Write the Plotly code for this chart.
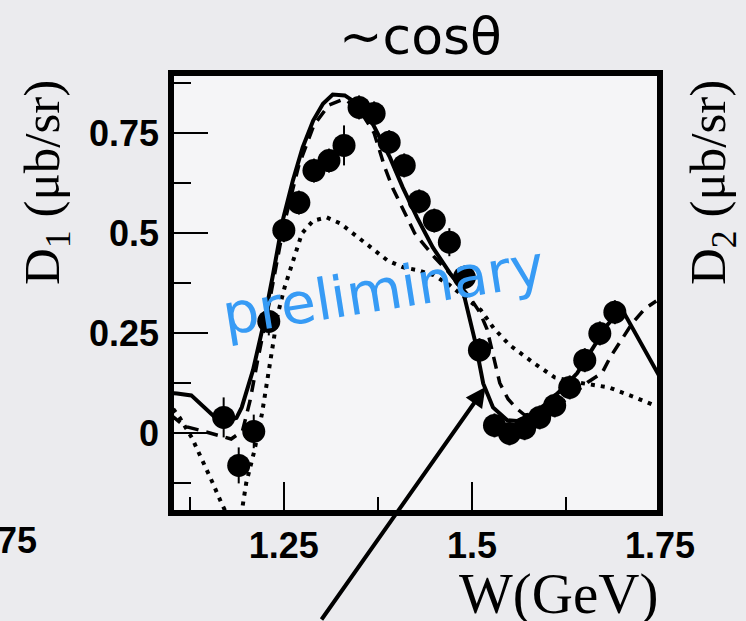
import plotly.graph_objects as go

# ---------------- data ----------------
W_pts = [1.17, 1.19, 1.21, 1.23, 1.25, 1.27, 1.29, 1.31, 1.33, 1.35, 1.37, 1.39, 1.41, 1.43,
         1.45, 1.47, 1.49, 1.51, 1.53, 1.55, 1.57, 1.59, 1.61, 1.63, 1.65, 1.67, 1.69]
D1_pts = [0.039, -0.081, 0.004, 0.279, 0.507, 0.576, 0.656, 0.681, 0.719, 0.814, 0.799, 0.727,
          0.669, 0.579, 0.531, 0.477, 0.389, 0.207, 0.019, -0.001, 0.012, 0.039, 0.069, 0.114,
          0.182, 0.249, 0.302]
D1_err = [0.05, 0.045, 0.042, 0.035, 0.03, 0.03, 0.03, 0.03, 0.05, 0.03, 0.03, 0.03, 0.03, 0.03,
          0.03, 0.035, 0.03, 0.03, 0.03, 0.03, 0.03, 0.03, 0.03, 0.03, 0.03, 0.03, 0.03]

W_solid = [1.100, 1.108, 1.127, 1.144, 1.158, 1.175, 1.187, 1.194, 1.201, 1.209, 1.214, 1.222,
           1.235, 1.249, 1.262, 1.275, 1.289, 1.302, 1.315, 1.331, 1.347, 1.369, 1.391, 1.408,
           1.427, 1.448, 1.471, 1.488, 1.504, 1.515, 1.528, 1.547, 1.560, 1.580, 1.600, 1.620,
           1.640, 1.660, 1.680, 1.699, 1.720, 1.750]
D_solid = [0.100, 0.099, 0.094, 0.064, 0.040, 0.030, 0.038, 0.064, 0.107, 0.157, 0.198, 0.264,
           0.390, 0.535, 0.631, 0.714, 0.781, 0.823, 0.846, 0.844, 0.824, 0.770, 0.689, 0.614,
           0.539, 0.464, 0.399, 0.356, 0.231, 0.124, 0.064, 0.032, 0.030, 0.048, 0.075, 0.110,
           0.150, 0.210, 0.270, 0.311, 0.240, 0.139]

W_dash = [1.100, 1.118, 1.148, 1.180, 1.195, 1.205, 1.215, 1.230, 1.250, 1.270, 1.290, 1.310,
          1.330, 1.350, 1.370, 1.384, 1.395, 1.409, 1.424, 1.450, 1.470, 1.497, 1.511, 1.520,
          1.530, 1.537, 1.548, 1.559, 1.570, 1.590, 1.610, 1.630, 1.654, 1.673, 1.684, 1.694,
          1.713, 1.730, 1.745]
D_dash = [0.045, 0.017, 0.002, -0.015, 0.005, 0.080, 0.180, 0.320, 0.520, 0.670, 0.770, 0.820,
          0.835, 0.810, 0.750, 0.665, 0.611, 0.557, 0.499, 0.440, 0.400, 0.340, 0.300, 0.260,
          0.180, 0.125, 0.085, 0.062, 0.045, 0.050, 0.065, 0.090, 0.127, 0.150, 0.190, 0.220,
          0.274, 0.311, 0.330]

W_dot = [1.103, 1.112, 1.128, 1.142, 1.155, 1.167, 1.176, 1.186, 1.195, 1.200, 1.211, 1.221,
         1.228, 1.235, 1.242, 1.251, 1.262, 1.274, 1.289, 1.307, 1.325, 1.342, 1.365, 1.388,
         1.409, 1.428, 1.449, 1.470, 1.490, 1.512, 1.529, 1.550, 1.583, 1.610, 1.645, 1.682,
         1.717, 1.745]
D_dot = [0.060, 0.037, -0.013, -0.068, -0.123, -0.175, -0.210, -0.225, -0.185, -0.125, -0.043,
         0.049, 0.130, 0.214, 0.298, 0.364, 0.431, 0.499, 0.531, 0.539, 0.524, 0.499, 0.464,
         0.431, 0.414, 0.407, 0.395, 0.370, 0.340, 0.307, 0.262, 0.220, 0.174, 0.139, 0.125,
         0.114, 0.089, 0.067]

x_major = [1.25, 1.5, 1.75]
x_major_text = ["1.25", "1.5", "1.75"]
x_minor = [1.125, 1.375, 1.625]
y_major = [0, 0.25, 0.5, 0.75]
y_major_text = ["0", "0.25", "0.5", "0.75"]
y_minor = [-0.125, 0.125, 0.375, 0.625, 0.875]

# ---------------- layout geometry ----------------
FIG_W, FIG_H = 746, 621
L, T, PW, PH = 171, 73, 489, 440


def px(x):
    return (x - L) / PW


def py(y):
    return 1 - (y - T) / PH


fig = go.Figure()
fig.add_trace(go.Scatter(x=W_dot, y=D_dot, mode="lines",
                         line=dict(color="black", width=4, dash="4px,6px"), hoverinfo="skip"))
fig.add_trace(go.Scatter(x=W_dash, y=D_dash, mode="lines",
                         line=dict(color="black", width=3.5, dash="12px,8px"), hoverinfo="skip"))
fig.add_trace(go.Scatter(x=W_solid, y=D_solid, mode="lines",
                         line=dict(color="black", width=4), hoverinfo="skip"))
fig.add_trace(go.Scatter(x=W_pts, y=D1_pts, mode="markers",
                         marker=dict(color="black", size=23),
                         error_y=dict(type="data", array=D1_err, color="black", thickness=2, width=0)))

tick_font = dict(family="Liberation Sans, Arial", size=36, color="black", weight="bold")

fig.update_layout(
    width=FIG_W, height=FIG_H,
    margin=dict(l=L, r=FIG_W - L - PW, t=T, b=FIG_H - T - PH),
    paper_bgcolor="#ebebee", plot_bgcolor="#f5f5f7",
    showlegend=False,
    xaxis=dict(range=[1.1, 1.75], showgrid=False, zeroline=False, showline=False,
               tickmode="array", tickvals=x_major, ticktext=x_major_text,
               ticks="inside", ticklen=31, tickwidth=2, tickcolor="black",
               tickfont=tick_font, ticklabelstandoff=8,
               minor=dict(tickvals=x_minor, ticks="inside", ticklen=16, tickwidth=2,
                          tickcolor="black", showgrid=False)),
    yaxis=dict(range=[-0.2, 0.9], showgrid=False, zeroline=False, showline=False,
               tickmode="array", tickvals=y_major, ticktext=y_major_text,
               ticks="inside", ticklen=37, tickwidth=2, tickcolor="black",
               tickfont=tick_font, ticklabelstandoff=11,
               minor=dict(tickvals=y_minor, ticks="inside", ticklen=20, tickwidth=2,
                          tickcolor="black", showgrid=False)),
)

# frame
fig.add_shape(type="rect", xref="paper", yref="paper", x0=0, x1=1, y0=0, y1=1,
              line=dict(color="black", width=6), layer="above")

annos = [
    dict(text="~cosθ", x=px(420), y=py(36), xanchor="center", yanchor="middle",
         font=dict(family="DejaVu Sans", size=52, color="black")),
    dict(text="W(GeV)", x=px(660), y=py(594), xanchor="right", yanchor="middle",
         font=dict(family="Liberation Serif, Times New Roman", size=57, color="black")),
    dict(text="D<sub>1</sub> (μb/sr)", x=px(46), y=py(183), xanchor="center", yanchor="middle",
         textangle=-90, font=dict(family="Liberation Serif, Times New Roman", size=51, color="black")),
    dict(text="D<sub>2</sub> (μb/sr)", x=px(712), y=py(183), xanchor="center", yanchor="middle",
         textangle=-90, font=dict(family="Liberation Serif, Times New Roman", size=51, color="black")),
    dict(text="1.75", x=px(39), y=py(540), xanchor="right", yanchor="middle",
         font=tick_font),
    dict(text="preliminary", x=px(383), y=py(290), xanchor="center", yanchor="middle",
         textangle=-9, font=dict(family="DejaVu Sans", size=57, color="rgb(55,155,245)")),
]
for a in annos:
    fig.add_annotation(xref="paper", yref="paper", showarrow=False, **a)

# arrow
fig.add_annotation(xref="x", yref="y", x=1.518, y=0.115, text="", showarrow=True,
                   axref="pixel", ayref="pixel", ax=-165, ay=246, standoff=0,
                   arrowhead=2, arrowsize=1, arrowwidth=4, arrowcolor="black")

fig.write_html("out.html")
